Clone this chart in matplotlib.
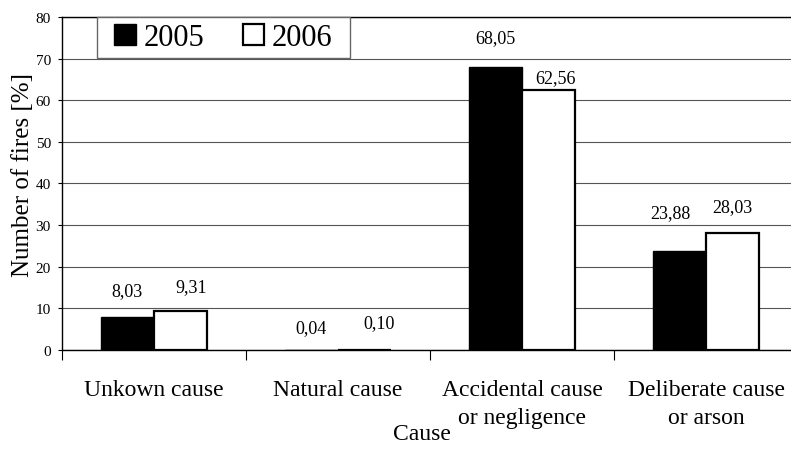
import numpy as np
import matplotlib
matplotlib.use('Agg')
import matplotlib.pyplot as plt
from matplotlib.patches import Rectangle

causes = ['Unkown cause', 'Natural cause', 'Accidental cause\nor negligence',
          'Deliberate cause\nor arson']
fires_2005 = [8.03, 0.04, 68.05, 23.88]
fires_2006 = [9.31, 0.10, 62.56, 28.03]
years = ['2005', '2006']

# label nudges in pixels (dx, dy above bar top), as placed in the original
nudge_2005 = [(0, 26), (0, 22), (0, 29), (-9, 38)]
nudge_2006 = [(11, 25), (14, 27), (7, 12), (0, 27)]

plt.rcParams['font.family'] = ['Liberation Serif', 'DejaVu Serif']

W, H = 791, 452
fig = plt.figure(figsize=(W / 100, H / 100), dpi=100)
ax = fig.add_axes([62 / W, 1 - 351 / H, 736 / W, 333 / H])

x = np.arange(len(causes))
bw = 0.29
b1 = ax.bar(x - bw / 2, fires_2005, bw, color='black', edgecolor='black',
            linewidth=1.0, zorder=3, label=years[0])
b2 = ax.bar(x + bw / 2, fires_2006, bw, color='white', edgecolor='black',
            linewidth=1.6, zorder=3, label=years[1])


def fmt(v):
    return f'{v:.2f}'.replace('.', ',')


for bars, vals, nudges in ((b1, fires_2005, nudge_2005), (b2, fires_2006, nudge_2006)):
    for rect, v, (dx, dy) in zip(bars, vals, nudges):
        ax.annotate(fmt(v), (rect.get_x() + rect.get_width() / 2, v),
                    xytext=(dx, dy), textcoords='offset pixels',
                    ha='center', va='center', fontsize=13)

ax.set_xlim(-0.5, len(causes) - 0.5)
ax.set_ylim(0, 80)
ax.set_yticks(np.arange(0, 81, 10))
ax.yaxis.grid(True, color='#555555', linewidth=0.8, zorder=0)
ax.set_axisbelow(True)
ax.tick_params(axis='y', direction='out', length=3, width=0.8, pad=5, labelsize=11)

ax.set_xticks(np.arange(len(causes) + 1) - 0.5)
ax.set_xticklabels([])
ax.set_xticks(x, minor=True)
ax.set_xticklabels(causes, minor=True, fontsize=17, linespacing=1.45)
ax.tick_params(axis='x', which='major', direction='out', length=7, width=0.8)
ax.tick_params(axis='x', which='minor', length=0, pad=21)

for side in ('left', 'bottom', 'top'):
    ax.spines[side].set_linewidth(1.0)
    ax.spines[side].set_color('black')
ax.spines['right'].set_visible(False)

ax.set_xlabel('Cause', fontsize=17)
ax.xaxis.label.set_verticalalignment('center')
ax.xaxis.set_label_coords((422 - 62) / 736, (351 - 434) / 333)
ax.set_ylabel('Number of fires [%]', fontsize=18, va='center', ha='center')
ax.yaxis.set_label_coords((23 - 62) / 736, (351 - 175) / 333)

# legend box drawn separately so its padding matches the original
box = Rectangle((97 / W, 1 - 59 / H), 253 / W, 41 / H, transform=fig.transFigure,
                facecolor='white', edgecolor='#666666', linewidth=1.0,
                zorder=4, clip_on=False)
ax.add_patch(box)
leg = ax.legend(handles=[b1, b2], loc='center', bbox_to_anchor=(223.5 / W, 1 - 38.5 / H),
                bbox_transform=fig.transFigure, ncol=2, fontsize=22,
                frameon=False, borderaxespad=0, borderpad=0,
                handlelength=0.7, handleheight=0.7, handletextpad=0.26,
                columnspacing=1.25)
leg.set_zorder(5)

fig.savefig('out.png', dpi=100)
